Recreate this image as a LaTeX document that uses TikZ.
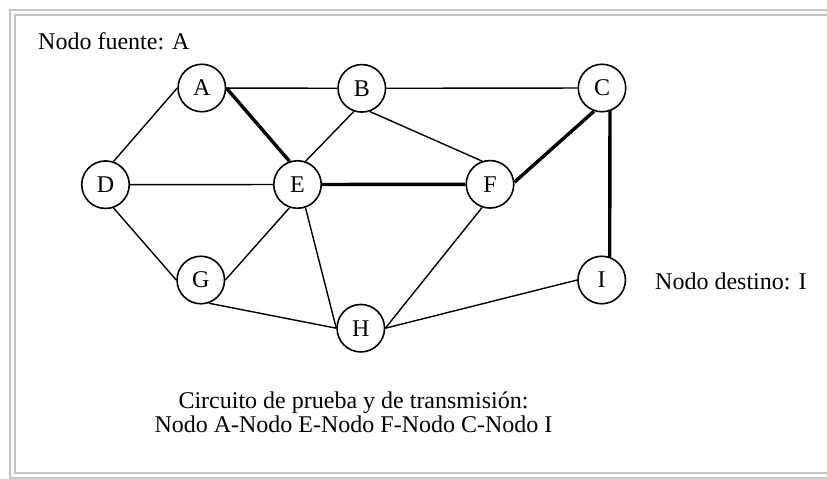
\documentclass[tikz,border=0pt]{standalone}
\usepackage{fontspec}
\setmainfont{Liberation Serif}
\begin{document}
\begin{tikzpicture}[x=1pt,y=-1pt,
  nodo/.style={circle,draw,line width=1.6pt,fill=white,minimum size=47.5pt,inner sep=0pt,
    font=\fontsize{24}{25}\selectfont},
  etiqueta/.style={inner sep=0pt,font=\fontsize{24}{25}\selectfont},
  enlace/.style={line width=1.4pt},
  ruta/.style={line width=3.4pt},
  marco/.style={draw=gray!45,line width=2pt}]
\clip (0,0) rectangle (827,479);
% double frame
\draw[marco] (10.3,10.3) rectangle (845,478);
\draw[marco] (14.7,14.7) rectangle (840,473);

% network nodes
\node[nodo] (A) at (201.8,88) {A};
\node[nodo] (B) at (361.8,88.3) {B};
\node[nodo] (C) at (602,88) {C};
\node[nodo] (D) at (105.5,184.7) {D};
\node[nodo] (E) at (297.5,184.5) {E};
\node[nodo] (F) at (490,184.3) {F};
\node[nodo] (G) at (200.8,280) {G};
\node[nodo] (H) at (360.8,328.2) {H};
\node[nodo] (I) at (601.7,280) {I};

% links
\draw[enlace] (A) -- (B);
\draw[enlace] (B) -- (C);
\draw[enlace] (A.180) -- (D.71);
\draw[enlace] (B.251) -- (E.71);
\draw[enlace] (B.289) -- (F.109);
\draw[enlace] (D) -- (E);
\draw[enlace] (D.289) -- (G.180);
\draw[enlace] (E.251) -- (G.0);
\draw[enlace] (E.289) -- (H.180);
\draw[enlace] (F.251) -- (H.0);
\draw[enlace] (G.289) -- (H.180);
\draw[enlace] (H.0) -- (I.180);

% selected route A-E-F-C-I
\draw[ruta] (A.0) -- (E.109);
\draw[ruta] (E) -- (F);
\draw[ruta] (F.5) -- (C.251);
\draw[ruta] (C.289) -- (I.71);

% labels
\node[etiqueta,anchor=base west] (fuente) at (38,49.3) {Nodo fuente: A};
\node[etiqueta,anchor=base west] (destino) at (655,289.3) {Nodo destino: I};
\node[etiqueta,anchor=base] (circ1) at (353.5,408) {Circuito de prueba y de transmisión:};
\node[etiqueta,anchor=base] (circ2) at (353.5,432.7) {Nodo A-Nodo E-Nodo F-Nodo C-Nodo I};
\end{tikzpicture}
\end{document}
